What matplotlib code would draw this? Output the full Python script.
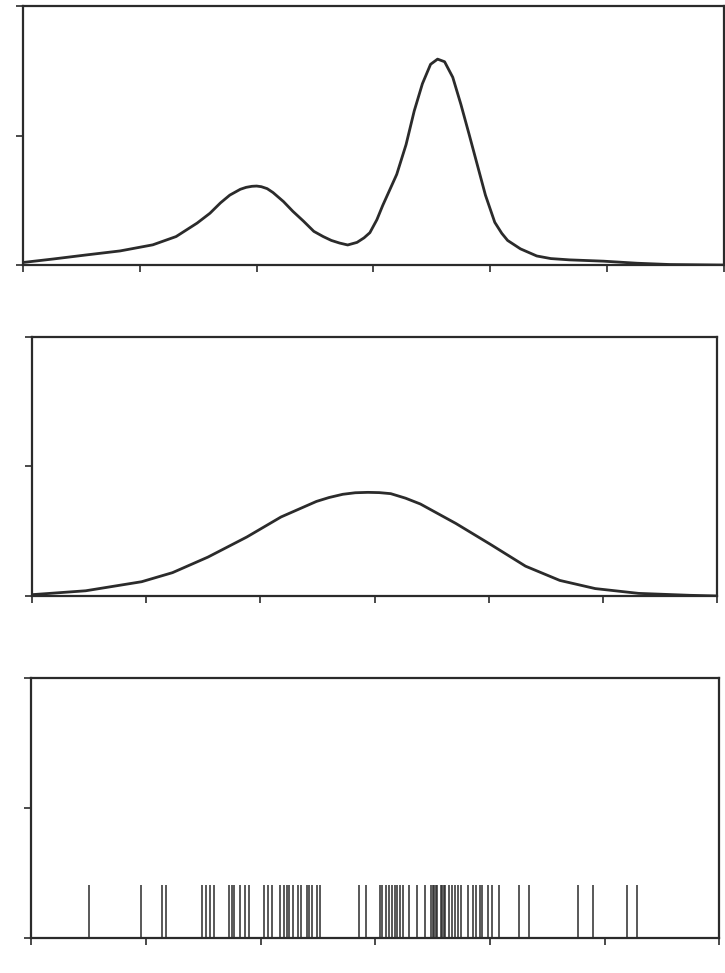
import numpy as np
import matplotlib
matplotlib.use('Agg')
import matplotlib.pyplot as plt

# top panel: bimodal density
top_x = [0.0, 0.26, 0.54, 0.83, 1.11, 1.31, 1.49, 1.60, 1.69, 1.77, 1.86, 1.91, 1.96, 2.0, 2.04, 2.09,
         2.14, 2.23, 2.31, 2.40, 2.49, 2.57, 2.64, 2.71, 2.78, 2.86, 2.92, 2.97, 3.03, 3.08, 3.14,
         3.20, 3.28, 3.35, 3.42, 3.49, 3.55, 3.61, 3.68, 3.75, 3.82, 3.89, 3.96, 4.04, 4.10, 4.15,
         4.26, 4.40, 4.52, 4.68, 4.97, 5.26, 5.54, 6.0]
top_y = [0.02, 0.047, 0.078, 0.109, 0.156, 0.22, 0.324, 0.40, 0.48, 0.54, 0.585, 0.60, 0.608, 0.61, 0.605, 0.59,
         0.56, 0.49, 0.415, 0.34, 0.26, 0.22, 0.19, 0.17, 0.155, 0.175, 0.21, 0.25, 0.35, 0.46, 0.58,
         0.70, 0.93, 1.19, 1.40, 1.55, 1.59, 1.57, 1.45, 1.24, 1.01, 0.775, 0.54, 0.33, 0.245, 0.19,
         0.125, 0.07, 0.05, 0.04, 0.03, 0.014, 0.004, 0.0]

# middle panel: oversmoothed unimodal curve
mid_x = [0.0, 0.47, 0.96, 1.23, 1.54, 1.88, 2.18, 2.49, 2.60, 2.72, 2.83, 2.94, 3.04, 3.14, 3.27,
         3.40, 3.71, 4.01, 4.32, 4.62, 4.93, 5.31, 5.76, 6.0]
mid_y = [0.01, 0.04, 0.11, 0.18, 0.30, 0.455, 0.61, 0.73, 0.76, 0.785, 0.797, 0.80, 0.798, 0.79, 0.755,
         0.71, 0.56, 0.40, 0.23, 0.12, 0.057, 0.02, 0.005, 0.0]

# bottom panel: the observations (rug)
rug_x = [0.50, 0.955, 1.14, 1.17, 1.49, 1.52, 1.56, 1.59, 1.72, 1.75, 1.77, 1.82, 1.86, 1.90,
         2.03, 2.06, 2.10, 2.17, 2.20, 2.23, 2.25, 2.28, 2.32, 2.35, 2.40, 2.42, 2.45, 2.49,
         2.52, 2.86, 2.92, 3.04, 3.06, 3.09, 3.12, 3.14, 3.17, 3.19, 3.21, 3.24, 3.29, 3.36,
         3.43, 3.48, 3.50, 3.51, 3.53, 3.54, 3.57, 3.58, 3.60, 3.61, 3.64, 3.67, 3.69, 3.72,
         3.75, 3.81, 3.85, 3.88, 3.91, 3.93, 3.98, 4.02, 4.08, 4.25, 4.34, 4.77, 4.90, 5.19, 5.28]
rug_height = 0.41

x_ticks = [0, 1, 2, 3, 4, 5, 6]
y_ticks = [0, 1, 2]

ink = '#2b2b2b'

fig = plt.figure(figsize=(7.25, 9.73), dpi=100)

ax1 = fig.add_axes([0.032, 0.7276, 0.966, 0.2662])
ax2 = fig.add_axes([0.0441, 0.3875, 0.9455, 0.2662])
ax3 = fig.add_axes([0.0434, 0.0360, 0.9490, 0.2672])

ax1.plot(top_x, top_y, color=ink, linewidth=2.0, solid_joinstyle='round')
ax2.plot(mid_x, mid_y, color=ink, linewidth=2.0, solid_joinstyle='round')
ax3.vlines(rug_x, 0, rug_height, color=ink, linewidth=1.1)

for ax in (ax1, ax2, ax3):
    ax.set_xlim(0, 6)
    ax.set_ylim(0, 2)
    ax.set_xticks(x_ticks)
    ax.set_yticks(y_ticks)
    ax.set_xticklabels([])
    ax.set_yticklabels([])
    ax.tick_params(direction='out', length=5, width=1.2, color=ink)
    for s in ax.spines.values():
        s.set_color(ink)
        s.set_linewidth(1.6)

fig.savefig('out.png', dpi=100)
